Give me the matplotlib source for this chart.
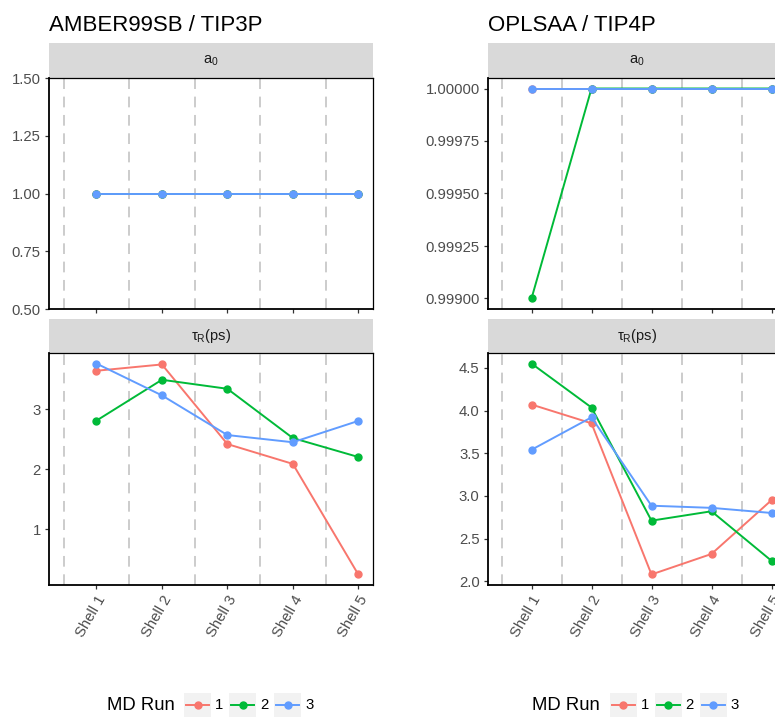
import matplotlib.pyplot as plt
from matplotlib.patches import Rectangle
from matplotlib.lines import Line2D
from matplotlib.ticker import FormatStrFormatter

plt.rcParams['font.family'] = ['Liberation Sans', 'DejaVu Sans']
plt.rcParams['mathtext.fontset'] = 'custom'
plt.rcParams['mathtext.rm'] = 'Liberation Sans'
plt.rcParams['mathtext.it'] = 'Liberation Sans:italic'

# ---- data ----
shells = ["Shell 1", "Shell 2", "Shell 3", "Shell 4", "Shell 5"]
runs = ["1", "2", "3"]
run_colors = ["#F8766D", "#00BA38", "#619CFF"]

amber_a0 = [
    [1.0, 1.0, 1.0, 1.0, 1.0],
    [1.0, 1.0, 1.0, 1.0, 1.0],
    [1.0, 1.0, 1.0, 1.0, 1.0],
]
amber_tau = [
    [3.64, 3.745, 2.42, 2.09, 0.25],
    [2.81, 3.49, 3.34, 2.52, 2.205],
    [3.76, 3.23, 2.57, 2.45, 2.805],
]
opls_a0 = [
    [1.0, 1.0, 1.0, 1.0, 1.0],
    [0.999, 1.0, 1.0, 1.0, 1.0],
    [1.0, 1.0, 1.0, 1.0, 1.0],
]
opls_tau = [
    [4.07, 3.85, 2.08, 2.32, 2.95],
    [4.55, 4.035, 2.71, 2.82, 2.24],
    [3.54, 3.92, 2.885, 2.86, 2.80],
]

W, H = 775, 717
fig = plt.figure(figsize=(W / 100, H / 100), dpi=100)


def box(x0, y0, x1, y1):
    # pixel box (top-left origin) -> figure fraction rect
    return [x0 / W, 1 - y1 / H, (x1 - x0) / W, (y1 - y0) / H]


def strip(x0, x1, y0, y1, label):
    s = fig.add_axes(box(x0, y0, x1, y1))
    s.set_facecolor("#D9D9D9")
    for sp in s.spines.values():
        sp.set_visible(False)
    s.set_xticks([])
    s.set_yticks([])
    s.text(0.5, 0.5, label, ha="center", va="center", fontsize=10.5, color="#1A1A1A",
           transform=s.transAxes)


def panel(x0, x1, y0, y1, series, yticks, fmt, ylim, show_x):
    ax = fig.add_axes(box(x0, y0, x1, y1))
    xs = list(range(1, len(shells) + 1))
    for v in [0.5, 1.5, 2.5, 3.5, 4.5]:
        ax.axvline(v, color="#BEBEBE", lw=1.1, ls=(0, (7, 5)), zorder=1)
    for vals, c in zip(series, run_colors):
        ax.plot(xs, vals, color=c, lw=1.4, marker="o", ms=5, zorder=3)
    ax.set_xlim(0.275, 5.225)
    ax.set_ylim(*ylim)
    ax.set_yticks(yticks)
    ax.yaxis.set_major_formatter(FormatStrFormatter(fmt))
    ax.set_xticks(xs)
    if show_x:
        ax.set_xticklabels(shells, rotation=60, ha="right", va="top", rotation_mode="anchor")
    else:
        ax.set_xticklabels([])
        ax.tick_params(axis="x", length=0)
    ax.tick_params(colors="#333333", labelcolor="#4D4D4D", labelsize=10.7, length=3, width=0.9, pad=3)
    for sp in ax.spines.values():
        sp.set_color("black")
        sp.set_linewidth(0.9)
    ax.spines["left"].set_linewidth(1.3)
    ax.spines["bottom"].set_linewidth(1.3)
    return ax


def legend(cx, cy):
    fig.text((cx - 104) / W, 1 - cy / H, "MD Run", fontsize=13.3, color="black",
             ha="left", va="center")
    for i, (lab, c) in enumerate(zip(runs, run_colors)):
        bx = cx - 27 + i * 45
        fig.patches.append(Rectangle((bx / W, 1 - (cy + 12) / H), 27 / W, 24 / H,
                                     transform=fig.transFigure, facecolor="#F2F2F2",
                                     edgecolor="none"))
        fig.lines.append(Line2D([(bx + 2) / W, (bx + 25) / W], [1 - cy / H, 1 - cy / H],
                                transform=fig.transFigure, color=c, lw=1.4))
        fig.lines.append(Line2D([(bx + 13.5) / W], [1 - cy / H], transform=fig.transFigure,
                                color=c, marker="o", ms=5, lw=0))
        fig.text((bx + 31) / W, 1 - cy / H, lab, fontsize=10.7, color="black",
                 ha="left", va="center")


panels = [
    ("AMBER99SB / TIP3P", 49, 373, amber_a0, amber_tau,
     [0.5, 0.75, 1.0, 1.25, 1.5], "%.2f", (0.5, 1.5),
     [1, 2, 3], "%d", (0.0745, 3.9355)),
    ("OPLSAA / TIP4P", 488, 785, opls_a0, opls_tau,
     [0.999, 0.99925, 0.9995, 0.99975, 1.0], "%.5f", (0.99895, 1.00005),
     [2.0, 2.5, 3.0, 3.5, 4.0, 4.5], "%.1f", (1.9565, 4.6735)),
]

for title, x0, x1, a0, tau, t1, f1, l1, t2, f2, l2 in panels:
    fig.text(x0 / W, 1 - 31 / H, title, fontsize=16, color="black", ha="left", va="baseline")
    strip(x0, x1, 43, 78, r"a$_0$")
    panel(x0, x1, 78, 309, a0, t1, f1, l1, False)
    strip(x0, x1, 319, 353, r"τ$_\mathrm{R}$(ps)")
    panel(x0, x1, 353, 585, tau, t2, f2, l2, True)
    legend((x0 + x1) / 2, 705)

fig.savefig("out.png", dpi=100)
